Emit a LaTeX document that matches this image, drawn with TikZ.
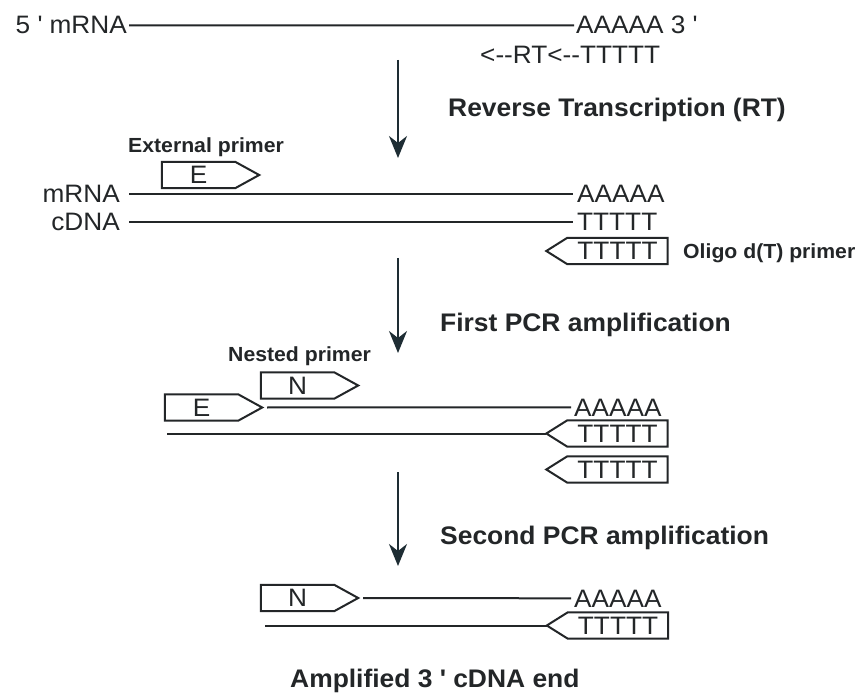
\documentclass[tikz,border=0pt]{standalone}
\usepackage{fontspec}
\setmainfont{Liberation Sans}[FakeStretch=1.04]
\usetikzlibrary{arrows.meta}
\definecolor{ink}{RGB}{35,38,40}
\definecolor{arrowc}{RGB}{30,45,52}
\newcommand\rprimer[1]{\draw[primer] (#1.north west) -- (#1.north east) -- ([xshift=24pt]#1.east) -- (#1.south east) -- (#1.south west) -- cycle;}
\newcommand\lprimer[1]{\draw[primer] (#1.north east) -- (#1.north west) -- ([xshift=-21pt]#1.west) -- (#1.south west) -- (#1.south east) -- cycle;}
\begin{document}
\begin{tikzpicture}[x=1pt,y=-1pt,
  txt/.style={inner sep=0pt, text=ink, font=\fontsize{25.2}{28}\selectfont},
  lab/.style={inner sep=0pt, text=ink, font=\fontsize{25.4}{28}\selectfont\bfseries},
  slab/.style={inner sep=0pt, text=ink, font=\fontsize{20.4}{24}\selectfont\bfseries},
  strand/.style={draw=ink, line width=2pt},
  primer/.style={draw=ink, line width=2pt, line join=miter},
  fwd/.style={txt, minimum width=73pt, minimum height=26pt},
  rev/.style={txt, minimum width=100pt, minimum height=26pt},
  flow/.style={draw=arrowc, line width=2pt, -{Stealth[length=22pt,width=18pt,inset=7pt]}}]
\useasboundingbox (0,0) rectangle (863,695);
\fill[white] (0,0) rectangle (863,695);

% row 0
\node[txt, anchor=base east] (m0) at (127,34) {5 \textquotesingle\ mRNA};
\node[txt, anchor=base west] (a0) at (576,34) {AAAAA 3 \textquotesingle};
\draw[strand] ([xshift=2pt]m0.east) -- ([xshift=-2pt]a0.west);
\node[txt, anchor=base west] (rt) at (480,64) {<{-}{-}RT<{-}{-}TTTTT};

\coordinate (f1s) at (398,60);
\coordinate (f1e) at (398,158);
\draw[flow] (f1s) -- (f1e);
\node[lab, anchor=base west] (L1) at (448,117) {Reverse Transcription (RT)};

% row 1
\node[slab, anchor=base west] (Lext) at (128,153) {External primer};
\node[fwd] (E1) at (198.5,175) {E};
\rprimer{E1}
\node[txt, anchor=base east] (m1) at (120,203) {mRNA};
\node[txt, anchor=base west] (a1) at (577,203) {AAAAA};
\draw[strand] ([xshift=9pt]m1.east) -- ([xshift=-4pt]a1.west);
\node[txt, anchor=base east] (c1) at (120,231) {cDNA};
\node[txt, anchor=base west] (t1) at (577,231) {TTTTT};
\draw[strand] ([xshift=9pt]c1.east |- t1.west) -- ([xshift=-4pt]t1.west);
\node[rev] (O1) at (617.5,251) {TTTTT};
\lprimer{O1}
\node[slab, anchor=base west] (Lolig) at (683,259) {Oligo d(T) primer};

\coordinate (f2s) at (398,258);
\coordinate (f2e) at (398,353);
\draw[flow] (f2s) -- (f2e);
\node[lab, anchor=base west] (L2) at (440,332) {First PCR amplification};

% row 2
\node[slab, anchor=base west] (Lnest) at (228,362) {Nested primer};
\node[fwd] (N2) at (297.5,385.5) {N};
\rprimer{N2}
\node[fwd] (E2) at (201.5,407.5) {E};
\rprimer{E2}
\node[txt, anchor=base west] (a2) at (574,416) {AAAAA};
\draw[strand] ([xshift=29pt]E2.east) -- ([xshift=-3pt]a2.west);
\node[rev] (O2) at (617.5,433.5) {TTTTT};
\lprimer{O2}
\coordinate (s2) at (167,433.5);
\draw[strand] (s2) -- ([xshift=-21pt]O2.west);
\node[rev] (O3) at (617.5,469.5) {TTTTT};
\lprimer{O3}

\coordinate (f3s) at (398,472);
\coordinate (f3e) at (398,566);
\draw[flow] (f3s) -- (f3e);
\node[lab, anchor=base west] (L3) at (440,544) {Second PCR amplification};

% row 3
\node[fwd] (N3) at (297.5,598) {N};
\rprimer{N3}
\node[txt, anchor=base west] (a3) at (574,607) {AAAAA};
\draw[strand] ([xshift=29pt]N3.east) -- ([xshift=-3pt]a3.west);
\node[rev] (O4) at (618,625.5) {TTTTT};
\lprimer{O4}
\coordinate (s3) at (265,625.5);
\draw[strand] (s3) -- ([xshift=-21pt]O4.west);

\node[lab, anchor=base west] (L4) at (290,687) {Amplified 3 \textquotesingle\ cDNA end};
\end{tikzpicture}
\end{document}
